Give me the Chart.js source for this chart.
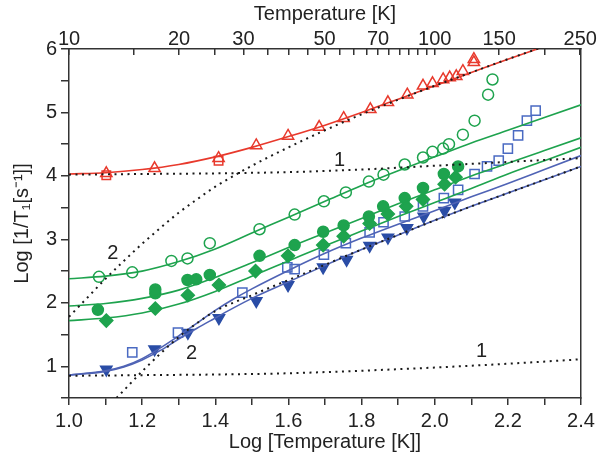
<!DOCTYPE html>
<html>
<head>
<meta charset="utf-8">
<script src="https://cdn.jsdelivr.net/npm/chart.js@4.4.1/dist/chart.umd.min.js"></script>
<style>
  html, body { margin: 0; padding: 0; background: #fff; }
  #chart { display: block; }
</style>
</head>
<body>
<canvas id="chart" width="601" height="462"></canvas>
<script>
// Data (log10 T on x, log10 1/T1 on y)
const redTriX = [1.102, 1.234, 1.409, 1.512, 1.599, 1.684, 1.751, 1.824, 1.872, 1.925, 1.968, 1.994, 2.023, 2.041, 2.059, 2.077, 2.107, 2.107];
const redTriY = [4.04, 4.12, 4.28, 4.48, 4.63, 4.77, 4.91, 5.05, 5.16, 5.28, 5.42, 5.46, 5.52, 5.55, 5.57, 5.65, 5.79, 5.84];
const redSqX = [1.102, 1.409];
const redSqY = [4.01, 4.24];

const gOpenX = [1.082, 1.173, 1.28, 1.324, 1.385, 1.521, 1.617, 1.697, 1.757, 1.82, 1.86, 1.918, 1.968, 1.994, 2.023, 2.039, 2.077, 2.109, 2.146, 2.158];
const gOpenY = [2.41, 2.48, 2.66, 2.70, 2.94, 3.16, 3.39, 3.60, 3.74, 3.91, 4.02, 4.18, 4.29, 4.38, 4.43, 4.50, 4.65, 4.87, 5.28, 5.52];

const gFillX = [1.079, 1.236, 1.236, 1.324, 1.348, 1.385, 1.521, 1.617, 1.695, 1.751, 1.82, 1.859, 1.918, 1.968, 2.025, 2.064];
const gFillY = [1.89, 2.21, 2.15, 2.36, 2.37, 2.44, 2.74, 2.91, 3.12, 3.22, 3.36, 3.52, 3.65, 3.81, 4.03, 4.15];

const gDiaX = [1.102, 1.236, 1.325, 1.41, 1.51, 1.599, 1.695, 1.751, 1.822, 1.872, 1.922, 1.968, 2.027, 2.057];
const gDiaY = [1.72, 1.91, 2.12, 2.28, 2.50, 2.74, 2.91, 3.05, 3.25, 3.40, 3.52, 3.63, 3.87, 3.98];

const bSqX = [1.173, 1.298, 1.474, 1.597, 1.617, 1.697, 1.757, 1.822, 1.86, 1.918, 1.968, 2.025, 2.064, 2.109, 2.143, 2.175, 2.20, 2.228, 2.252, 2.276];
const bSqY = [1.22, 1.53, 2.16, 2.56, 2.53, 2.76, 2.94, 3.11, 3.27, 3.36, 3.52, 3.65, 3.78, 4.03, 4.15, 4.24, 4.43, 4.64, 4.87, 5.03];

const bTriX = [1.102, 1.234, 1.325, 1.41, 1.512, 1.599, 1.695, 1.759, 1.822, 1.872, 1.924, 1.97, 2.027, 2.055];
const bTriY = [0.95, 1.27, 1.53, 1.76, 2.03, 2.28, 2.56, 2.68, 2.90, 3.03, 3.18, 3.36, 3.45, 3.58];

// Fit curves
const fitX = [1.0, 1.1, 1.2, 1.3, 1.4, 1.5, 1.6, 1.7, 1.8, 1.9, 2.0, 2.1, 2.2, 2.3, 2.4];
const redFitY = [4.03, 4.05, 4.1, 4.18, 4.3, 4.45, 4.62, 4.8, 5.0, 5.21, 5.42, 5.63, 5.84, 6.04, 6.24];
const gOpenFitY = [2.38, 2.42, 2.5, 2.65, 2.85, 3.1, 3.35, 3.6, 3.85, 4.08, 4.3, 4.52, 4.72, 4.92, 5.12];
const gFillFitY = [1.95, 1.99, 2.07, 2.2, 2.4, 2.63, 2.87, 3.1, 3.33, 3.56, 3.78, 4.0, 4.2, 4.4, 4.6];
const gDiaFitY = [1.72, 1.76, 1.84, 1.98, 2.18, 2.42, 2.66, 2.9, 3.13, 3.36, 3.58, 3.8, 4.03, 4.24, 4.45];
const bFitX = [1.0, 1.1, 1.15, 1.2, 1.25, 1.3, 1.35, 1.4, 1.45, 1.5, 1.6, 1.7, 1.8, 1.9, 2.0, 2.1, 2.2, 2.3, 2.4];
const bSqFitY = [0.86, 0.93, 1.0, 1.12, 1.29, 1.48, 1.68, 1.88, 2.06, 2.22, 2.51, 2.78, 3.02, 3.24, 3.45, 3.67, 3.88, 4.1, 4.32];
const bTriFitY = [0.86, 0.92, 0.99, 1.1, 1.25, 1.43, 1.6, 1.76, 1.92, 2.07, 2.33, 2.59, 2.84, 3.07, 3.3, 3.52, 3.73, 3.94, 4.15];

// Dotted model contributions
const l1X = [1.0, 1.2, 1.4, 1.6, 1.8, 2.0, 2.2, 2.4];
const l1UpperY = [4.02, 4.03, 4.04, 4.06, 4.1, 4.16, 4.22, 4.28];
const l1LowerY = [0.85, 0.86, 0.87, 0.89, 0.93, 0.98, 1.04, 1.11];
const l2UpperX = [1.0, 1.05, 1.1, 1.15, 1.2, 1.25, 1.3, 1.35, 1.4, 1.45, 1.5, 1.6, 1.7, 1.8, 1.9, 2.0, 2.1, 2.2, 2.3];
const l2UpperY = [1.78, 2.08, 2.38, 2.66, 2.93, 3.18, 3.42, 3.63, 3.83, 4.0, 4.16, 4.45, 4.72, 4.97, 5.2, 5.42, 5.63, 5.84, 6.04];
const l2LowerX = [1.13, 1.15, 1.2, 1.25, 1.3, 1.35, 1.4, 1.5, 1.6, 1.7, 1.8, 1.9, 2.0, 2.1, 2.2, 2.3, 2.4];
const l2LowerY = [0.5, 0.62, 0.92, 1.2, 1.46, 1.68, 1.87, 2.12, 2.36, 2.6, 2.84, 3.07, 3.3, 3.52, 3.73, 3.94, 4.15];

// Axis ticks
const bottomTicks = [1.0, 1.1, 1.2, 1.3, 1.4, 1.5, 1.6, 1.7, 1.8, 1.9, 2.0, 2.1, 2.2, 2.3, 2.4];
const leftTicks = [0.5, 1, 1.5, 2, 2.5, 3, 3.5, 4, 4.5, 5, 5.5, 6];
const topTemps = [10, 15, 20, 25, 30, 35, 40, 45, 50, 55, 60, 65, 70, 75, 80, 85, 90, 95, 100, 150, 200, 250];
const topLabels = [10, 20, 30, 50, 70, 100, 150, 250];

// Curve labels
const noteText = ['1', '1', '2', '2'];
const noteX = [1.74, 2.128, 1.12, 1.335];
const noteY = [4.25, 1.23, 2.78, 1.2];

const RED = '#e8392c';
const GREEN = '#1ea34e';
const BLUE_LINE = '#4f63b5';
const BLUE_SQ = '#4a6ac2';
const BLUE_TRI = '#2a4da6';
const AXIS = '#333333';

const pts = (xs, ys) => xs.map((x, i) => ({ x: x, y: ys[i] }));

function fitLine(xs, ys, color) {
    return { data: pts(xs, ys), showLine: true, borderColor: color, borderWidth: 1.6,
             pointRadius: 0, cubicInterpolationMode: 'monotone', fill: false };
}
function dotLine(xs, ys) {
    return { data: pts(xs, ys), showLine: true, borderColor: '#1a1a1a', borderWidth: 2,
             borderDash: [2, 4.5], pointRadius: 0, cubicInterpolationMode: 'monotone', fill: false };
}
function marks(xs, ys, style, color, filled, r, rot) {
    return { data: pts(xs, ys), showLine: false, pointStyle: style, pointRadius: r,
             pointRotation: rot || 0, pointBorderColor: color, pointBorderWidth: 1.5,
             pointBackgroundColor: filled ? color : 'rgba(0,0,0,0)' };
}

Chart.defaults.font.family = "'Liberation Sans', Arial, sans-serif";
Chart.defaults.font.size = 20;
Chart.defaults.color = '#222';

const notesPlugin = {
    id: 'notes',
    afterDatasetsDraw(chart) {
        const ctx = chart.ctx, xs = chart.scales.x, ys = chart.scales.y;
        ctx.save();
        ctx.font = "20px 'Liberation Sans', Arial, sans-serif";
        ctx.fillStyle = '#222';
        ctx.textAlign = 'center';
        ctx.textBaseline = 'middle';
        noteText.forEach((t, i) => {
            ctx.fillText(t, xs.getPixelForValue(noteX[i]), ys.getPixelForValue(noteY[i]));
        });
        ctx.restore();
    }
};

const datasets = [
    dotLine(l1X, l1UpperY),
    dotLine(l1X, l1LowerY),
    dotLine(l2UpperX, l2UpperY),
    dotLine(l2LowerX, l2LowerY),
    fitLine(fitX, redFitY, RED),
    fitLine(fitX, gOpenFitY, GREEN),
    fitLine(fitX, gFillFitY, GREEN),
    fitLine(fitX, gDiaFitY, GREEN),
    fitLine(bFitX, bSqFitY, BLUE_LINE),
    fitLine(bFitX, bTriFitY, BLUE_LINE),
    marks(redSqX, redSqY, 'rect', RED, false, 6),
    marks(redTriX, redTriY, 'triangle', RED, false, 6.5),
    marks(gOpenX, gOpenY, 'circle', GREEN, false, 5.5),
    marks(gFillX, gFillY, 'circle', GREEN, true, 5.5),
    marks(gDiaX, gDiaY, 'rectRot', GREEN, true, 6.5),
    marks(bSqX, bSqY, 'rect', BLUE_SQ, false, 6.5),
    marks(bTriX, bTriY, 'triangle', BLUE_TRI, true, 6.5, 180)
];

new Chart(document.getElementById('chart'), {
    type: 'scatter',
    data: { datasets: datasets },
    plugins: [notesPlugin],
    options: {
        responsive: false,
        devicePixelRatio: 1,
        animation: false,
        layout: { padding: 0 },
        plugins: { legend: { display: false }, tooltip: { enabled: false } },
        scales: {
            x: {
                type: 'linear', position: 'bottom', min: 1.0, max: 2.4,
                afterBuildTicks: s => { s.ticks = bottomTicks.map(v => ({ value: v })); },
                afterFit: s => { s.height = 64; },
                ticks: {
                    padding: 4, maxRotation: 0, autoSkip: false,
                    callback: v => (Math.round(v * 10) % 2 === 0 ? v.toFixed(1) : '')
                },
                grid: { drawOnChartArea: false, tickLength: 7, color: AXIS, lineWidth: 1.5 },
                border: { color: AXIS, width: 1.5 },
                title: { display: true, text: 'Log [Temperature [K]]', padding: { top: 0, bottom: 8 } }
            },
            x2: {
                type: 'linear', position: 'top', min: 1.0, max: 2.4,
                afterBuildTicks: s => { s.ticks = topTemps.map(t => ({ value: Math.log10(t) })); },
                afterFit: s => { s.height = 49; },
                ticks: {
                    padding: 4, maxRotation: 0, autoSkip: false,
                    callback: v => {
                        const t = Math.round(Math.pow(10, v));
                        return topLabels.includes(t) ? String(t) : '';
                    }
                },
                grid: { drawOnChartArea: false, tickLength: -6, color: AXIS, lineWidth: 1.5 },
                border: { color: AXIS, width: 1.5 },
                title: { display: true, text: 'Temperature [K]', padding: { top: 2, bottom: 0 } }
            },
            y: {
                type: 'linear', position: 'left', min: 0.5, max: 6,
                afterBuildTicks: s => { s.ticks = leftTicks.map(v => ({ value: v })); },
                afterFit: s => { s.width = 69; },
                ticks: {
                    padding: 4, autoSkip: false,
                    callback: v => (Number.isInteger(v) ? String(v) : '')
                },
                grid: { drawOnChartArea: false, tickLength: 8, color: AXIS, lineWidth: 1.5 },
                border: { color: AXIS, width: 1.5 },
                title: { display: true, text: 'Log [1/T\u2081[s\u207B\u00B9]]', padding: { top: 10, bottom: 0 } }
            },
            y2: {
                type: 'linear', position: 'right', min: 0.5, max: 6, display: true,
                afterFit: s => { s.width = 20; },
                ticks: { display: false },
                grid: { drawOnChartArea: false, drawTicks: false },
                border: { color: AXIS, width: 1.5 }
            }
        }
    }
});
</script>
</body>
</html>
